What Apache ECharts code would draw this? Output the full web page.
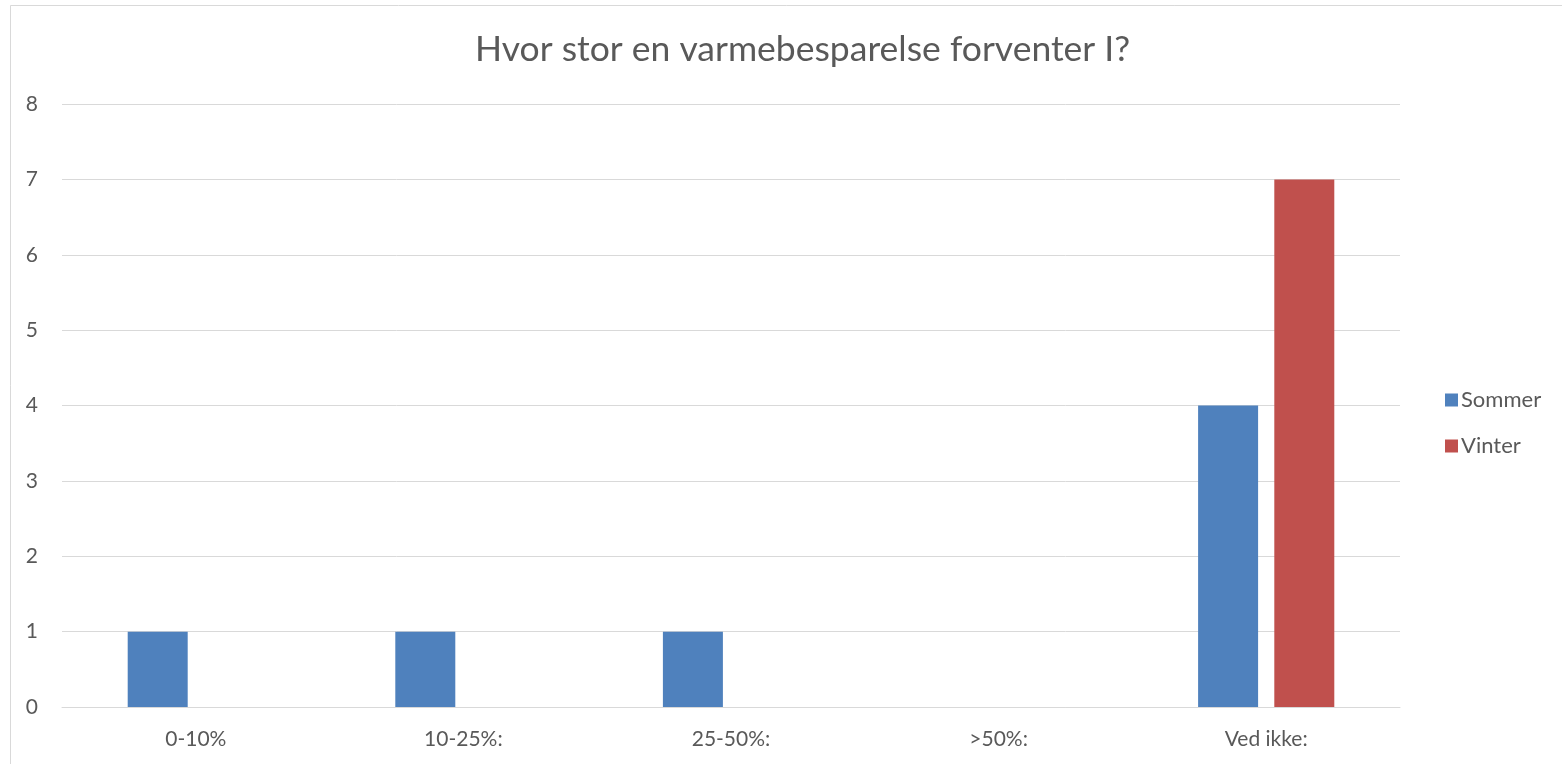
<!DOCTYPE html>
<html><head><meta charset="utf-8">
<script src="https://cdn.jsdelivr.net/npm/echarts@6/dist/echarts.min.js"></script>
<style>html,body{margin:0;padding:0;background:#fff}#c{width:1562px;height:764px}</style>
</head><body><div id="c"></div>
<script>
const categories = ["0-10%", "10-25%:", "25-50%:", ">50%:", "Ved ikke:"];
const sommer = [1, 1, 1, 0, 4];
const vinter = [0, 0, 0, 0, 7];
const seriesNames = ["Sommer", "Vinter"];
const FONT = "Lato";
const TXT = "#595959";
const chart = echarts.init(document.getElementById('c'), null, {renderer: 'canvas'});
chart.setOption({
  animation: false,
  backgroundColor: '#fff',
  textStyle: {fontFamily: FONT},
  graphic: [{type: 'rect', shape: {x: 10.5, y: 5.5, width: 1600, height: 800}, style: {fill: 'none', stroke: '#d9d9d9', lineWidth: 1}}],
  title: {text: "Hvor stor en varmebesparelse forventer I?", left: 470, top: 27, textStyle: {fontFamily: FONT, fontSize: 35.5, fontWeight: 'normal', color: TXT}},
  legend: {orient: 'vertical', left: 1440, top: 384, itemWidth: 13, itemHeight: 13, itemGap: 24, icon: 'rect',
    textStyle: {fontFamily: FONT, fontSize: 22, color: TXT, padding: [0,0,0,-2]}, data: seriesNames},
  grid: {left: 62, right: 162, top: 104, bottom: 57, containLabel: false},
  xAxis: {type: 'category', data: categories, axisLine: {show: true, lineStyle: {color: '#d9d9d9', width: 1}}, axisTick: {show: false},
    axisLabel: {fontFamily: FONT, fontSize: 21, color: TXT, margin: 22}},
  yAxis: {type: 'value', min: 0, max: 8, interval: 1, axisLine: {show: false}, axisTick: {show: false},
    splitLine: {lineStyle: {color: '#d9d9d9', width: 1}}, axisLabel: {fontFamily: FONT, fontSize: 21, color: TXT, margin: 24}},
  series: [
    {name: seriesNames[0], type: 'bar', data: sommer, barWidth: 60, barGap: '27%', itemStyle: {color: '#4f81bd'}},
    {name: seriesNames[1], type: 'bar', data: vinter, barWidth: 60, itemStyle: {color: '#c0504d'}}
  ]
});
</script></body></html>
